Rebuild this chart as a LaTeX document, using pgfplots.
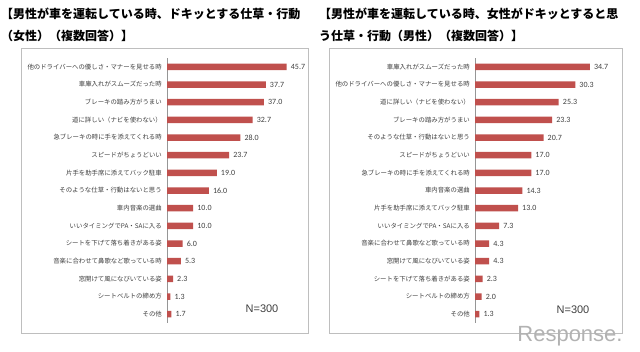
\documentclass[border=0pt]{standalone}
\usepackage{fontspec}
\usepackage{pgfplots}
\pgfplotsset{compat=1.18}
\setmainfont{Liberation Sans}
\newfontfamily\cjk{Noto Sans CJK JP}
\newfontfamily\carl{Carlito}
\definecolor{barred}{RGB}{192,80,77}
\definecolor{labelgray}{RGB}{64,64,64}
\definecolor{boxgray}{RGB}{190,190,190}
\definecolor{axgray}{RGB}{150,150,150}
\pgfplotsset{
  mybars/.style={
    scale only axis,
    anchor=south west,
    height=265pt,
    xmin=0,
    ymin=-0.5, ymax=14.5,
    y dir=reverse,
    axis x line=none,
    axis y line*=left,
    y axis line style={draw=axgray, line width=0.6pt},
    ytick={0,...,14},
    major tick length=0pt,
    ytick style={draw=none},
    yticklabel style={font=\cjk\fontsize{6.4}{7}\selectfont, text=labelgray, inner sep=0pt, xshift=-5pt},
    xbar,
    bar width=6.5pt,
    clip=false,
    point meta=x,
    nodes near coords,
    nodes near coords style={font=\carl\fontsize{8}{9}\selectfont, text=labelgray, inner sep=0pt, xshift=4pt,
      /pgf/number format/.cd, fixed, fixed zerofill, precision=1, assume math mode=true},
  }
}
\begin{document}
\begin{tikzpicture}
\path[fill=white] (0pt,0pt) rectangle (640pt,351pt);
\draw[boxgray, line width=0.8pt] (21pt,18pt) rectangle (308pt,303pt);
\draw[boxgray, line width=0.8pt] (329pt,18pt) rectangle (622pt,303pt);
\node[anchor=west, inner sep=0pt, font=\cjk\bfseries\fontsize{12}{12}\selectfont] at (1pt,337pt) {【男性が車を運転している時、ドキッとする仕草・行動};
\node[anchor=west, inner sep=0pt, font=\cjk\bfseries\fontsize{12}{12}\selectfont] at (1pt,315pt) {（女性）（複数回答）】};
\node[anchor=west, inner sep=0pt, font=\cjk\bfseries\fontsize{12}{12}\selectfont] at (319pt,337pt) {【男性が車を運転している時、女性がドキッとすると思};
\node[anchor=west, inner sep=0pt, font=\cjk\bfseries\fontsize{12}{12}\selectfont] at (319pt,315pt) {う仕草・行動（男性）（複数回答）】};

\begin{axis}[mybars, at={(167pt,28pt)}, width=131pt, xmax=50,
  yticklabels={他のドライバーへの優しさ・マナーを見せる時,車庫入れがスムーズだった時,ブレーキの踏み方がうまい,道に詳しい（ナビを使わない）,急ブレーキの時に手を添えてくれる時,スピードがちょうどいい,片手を助手席に添えてバック駐車,そのような仕草・行動はないと思う,車内音楽の選曲,いいタイミングでPA・SAに入る,シートを下げて落ち着きがある姿,音楽に合わせて鼻歌など歌っている時,窓開けて風になびいている姿,シートベルトの締め方,その他}]
\addplot[fill=barred, draw=none] coordinates {(45.7,0) (37.7,1) (37.0,2) (32.7,3) (28.0,4) (23.7,5) (19.0,6) (16.0,7) (10.0,8) (10.0,9) (6.0,10) (5.3,11) (2.3,12) (1.3,13) (1.7,14)};
\end{axis}

\begin{axis}[mybars, at={(475pt,28pt)}, width=132.4pt, xmax=40,
  yticklabels={車庫入れがスムーズだった時,他のドライバーへの優しさ・マナーを見せる時,道に詳しい（ナビを使わない）,ブレーキの踏み方がうまい,そのような仕草・行動はないと思う,スピードがちょうどいい,急ブレーキの時に手を添えてくれる時,車内音楽の選曲,片手を助手席に添えてバック駐車,いいタイミングでPA・SAに入る,音楽に合わせて鼻歌など歌っている時,窓開けて風になびいている姿,シートを下げて落ち着きがある姿,シートベルトの締め方,その他}]
\addplot[fill=barred, draw=none] coordinates {(34.7,0) (30.3,1) (25.3,2) (23.3,3) (20.7,4) (17.0,5) (17.0,6) (14.3,7) (13.0,8) (7.3,9) (4.3,10) (4.3,11) (2.3,12) (2.0,13) (1.3,14)};
\end{axis}

\node[font=\fontsize{11}{12}\selectfont, text=labelgray] at (262pt,42pt) {N=300};
\node[font=\fontsize{11}{12}\selectfont, text=labelgray] at (573pt,41pt) {N=300};
\node[font=\fontsize{22}{22}\selectfont, text=black!30] at (570pt,15pt) {Response.};
\end{tikzpicture}
\end{document}
